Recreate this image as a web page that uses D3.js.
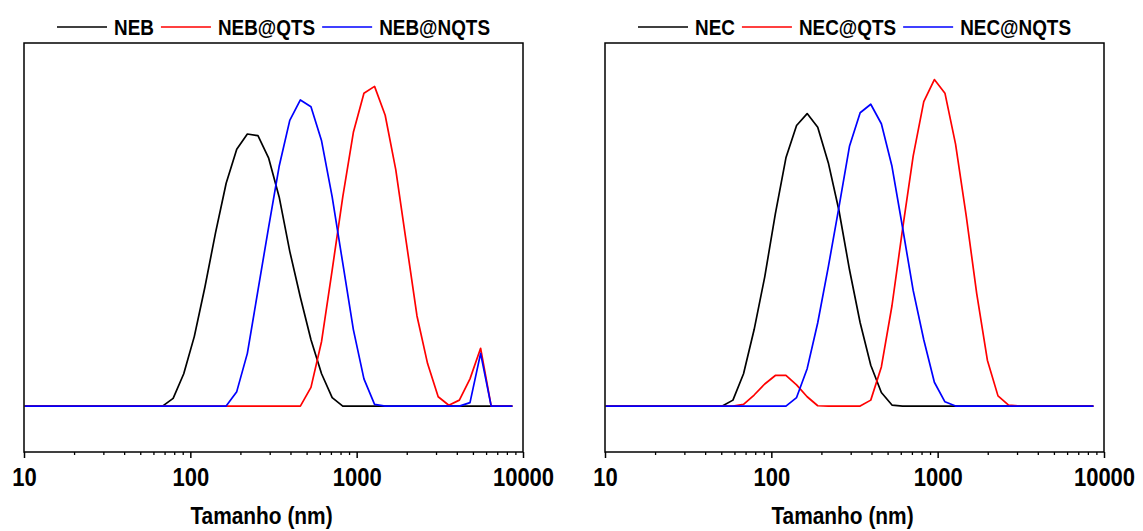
<!DOCTYPE html>
<html>
<head>
<meta charset="utf-8">
<script src="https://cdnjs.cloudflare.com/ajax/libs/d3/7.8.5/d3.min.js"></script>
<style>
  body { margin: 0; background: #fff; }
  text { font-family: "Liberation Sans", Arial, sans-serif; font-weight: bold; fill: #000; }
</style>
</head>
<body>
<div class="chart-container"></div>
<script>
// tamanho (nm) - classes do DLS
const sizes = [10.10, 11.70, 13.54, 15.69, 18.17, 21.04, 24.36, 28.21, 32.67, 37.84,
  43.82, 50.75, 58.77, 68.06, 78.82, 91.28, 105.7, 122.4, 141.8, 164.2,
  190.1, 220.2, 255.0, 295.3, 342.0, 396.1, 458.7, 531.2, 615.1, 712.4,
  825.0, 955.4, 1106, 1281, 1484, 1718, 1990, 2305, 2669, 3091,
  3580, 4145, 4801, 5560, 6439, 7456, 8635];

// intensidade (%) painel esquerdo
const neb = [0,0,0,0,0,0,0,0,0,0,0,0,0,0,
  0.45,1.9,4.1,7.0,10.2,13.1,15.1,16.0,15.9,14.6,12.3,9.1,6.4,3.9,1.9,0.5,
  0,0,0,0,0,0,0,0,0,0,0,0,0,0,0,0,0];
const nebQts = [0,0,0,0,0,0,0,0,0,0,0,0,0,0,0,0,0,0,0,0,0,0,0,0,0,0,0,
  1.1,3.8,8.0,12.3,16.1,18.4,18.8,17.1,13.9,9.6,5.3,2.5,0.55,0.05,0.35,1.6,3.4,
  0,0,0];
const nebNqts = [0,0,0,0,0,0,0,0,0,0,0,0,0,0,0,0,0,0,0,0,
  0.85,3.1,6.8,10.5,14.1,16.8,18.0,17.6,15.6,12.3,8.4,4.5,1.6,0.1,
  0,0,0,0,0,0,0,0,0.2,3.1,0,0,0];

// intensidade (%) painel direito
const nec = [0,0,0,0,0,0,0,0,0,0,0,0,
  0.35,1.9,4.5,7.6,11.3,14.6,16.5,17.2,16.4,14.3,11.5,8.0,4.9,2.4,0.8,0.06,
  0,0,0,0,0,0,0,0,0,0,0,0,0,0,0,0,0,0,0];
const necQts = [0,0,0,0,0,0,0,0,0,0,0,0,0,
  0.1,0.65,1.3,1.8,1.8,1.25,0.55,0.02,
  0,0,0,0,
  0.35,2.3,5.9,10.4,14.7,17.9,19.2,18.4,15.4,11.2,6.6,2.7,0.6,0.06,
  0,0,0,0,0,0,0,0];
const necNqts = [0,0,0,0,0,0,0,0,0,0,0,0,0,0,0,0,0,0,
  0.5,2.2,4.9,8.2,11.7,15.3,17.25,17.75,16.6,14.1,10.5,6.8,3.9,1.4,0.25,
  0,0,0,0,0,0,0,0,0,0,0,0,0,0];

const xTicks = [10, 100, 1000, 10000];
const colors = ['#000000', '#ff0000', '#0000ff'];

const width = 1143, height = 531;
const plotTop = 43, plotBottom = 452;

const svg = d3.select('.chart-container').append('svg')
  .attr('width', width)
  .attr('height', height);

function drawPanel(left, right, names, series){
  const xScale = d3.scaleLog().domain([10, 10000]).range([left, right]);
  const yScale = d3.scaleLinear().domain([-2.7, 21.35]).range([plotBottom, plotTop]);

  const g = svg.append('g');

  // eixo x
  const minor = [];
  xTicks.slice(0, -1).forEach(t => { for (let k = 2; k < 10; k++) minor.push(t * k); });

  g.append('g')
    .attr('transform', 'translate(0,' + plotBottom + ')')
    .call(d3.axisBottom(xScale).tickValues(minor).tickSize(3).tickFormat(''))
    .call(a => a.select('.domain').remove())
    .selectAll('line').attr('stroke', '#000').attr('stroke-width', 1.3);

  const xAxis = g.append('g')
    .attr('transform', 'translate(0,' + plotBottom + ')')
    .call(d3.axisBottom(xScale).tickValues(xTicks).tickSize(6).tickPadding(10).tickFormat(d3.format('d')));
  xAxis.select('.domain').remove();
  xAxis.selectAll('line').attr('stroke', '#000').attr('stroke-width', 1.5);
  xAxis.selectAll('text')
    .style('font-size', '25px')
    .attr('transform', 'scale(0.88,1)')
    .attr('fill', '#000');

  g.append('text')
    .attr('transform', 'translate(' + ((left + right) / 2 - 12) + ',524) scale(0.87,1)')
    .style('text-anchor', 'middle')
    .style('font-size', '24px')
    .text('Tamanho (nm)');

  // curvas
  const line = d3.line()
    .x((d, i) => xScale(sizes[i]))
    .y(d => yScale(d));

  series.forEach((s, j) => {
    g.append('path')
      .datum(s)
      .attr('fill', 'none')
      .attr('stroke', colors[j])
      .attr('stroke-width', 1.7)
      .attr('stroke-linejoin', 'round')
      .attr('d', line);
  });

  // moldura
  g.append('rect')
    .attr('x', left)
    .attr('y', plotTop)
    .attr('width', right - left)
    .attr('height', plotBottom - plotTop)
    .attr('fill', 'none')
    .attr('stroke', '#000')
    .attr('stroke-width', 1.5);

  // legenda
  const leg = g.append('g');
  let cx = 0;
  names.forEach((n, j) => {
    leg.append('line')
      .attr('x1', cx).attr('x2', cx + 50)
      .attr('y1', 27).attr('y2', 27)
      .attr('stroke', colors[j])
      .attr('stroke-width', 1.7);
    const t = leg.append('text')
      .attr('transform', 'translate(' + (cx + 57) + ',35) scale(0.86,1)')
      .style('font-size', '22px')
      .text(n);
    cx += 57 + t.node().getComputedTextLength() * 0.86 + 7;
  });
  const legW = cx - 7;
  leg.attr('transform', 'translate(' + ((left + right) / 2 - legW / 2) + ',0)');
}

drawPanel(24, 523, ['NEB', 'NEB@QTS', 'NEB@NQTS'], [neb, nebQts, nebNqts]);
drawPanel(605, 1104, ['NEC', 'NEC@QTS', 'NEC@NQTS'], [nec, necQts, necNqts]);
</script>
</body>
</html>
